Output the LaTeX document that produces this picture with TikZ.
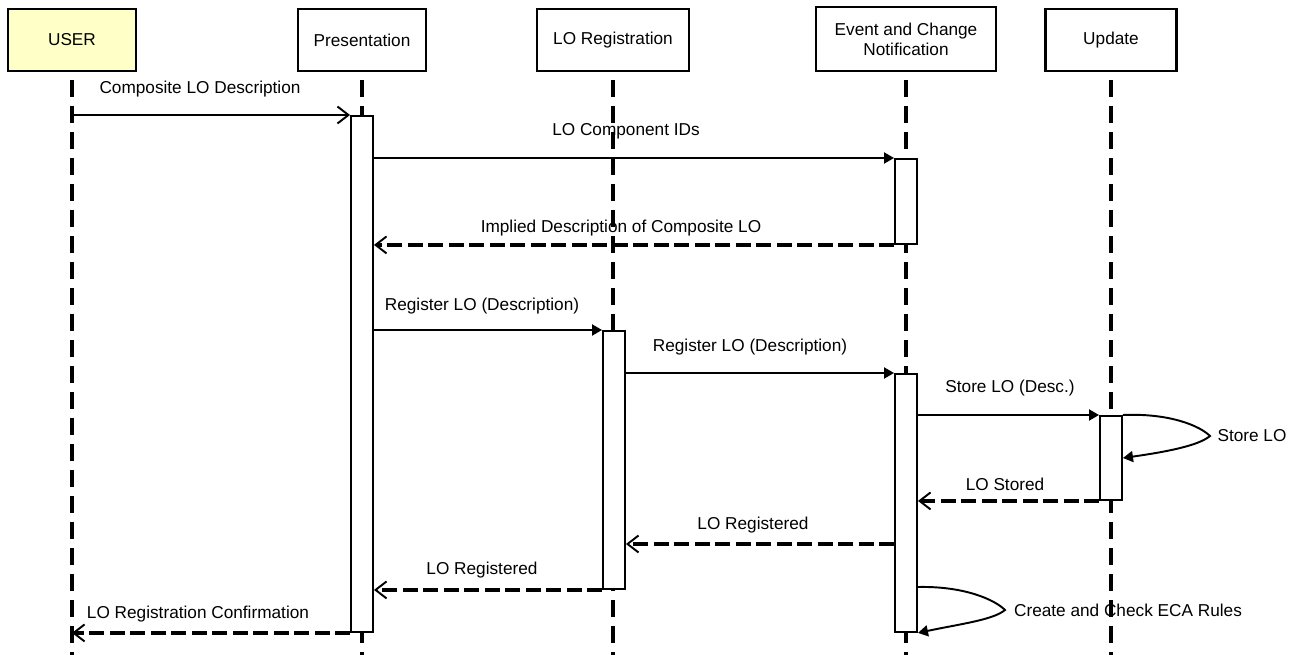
\documentclass[tikz,border=0pt]{standalone}
\usepackage{fontspec}
\setmainfont{Liberation Sans}
\usepackage{tikz}
\usetikzlibrary{arrows.meta}
\tikzset {>=Stealth}
\definecolor{userfill}{RGB}{255,255,200}
\tikzset{
  actor/.style={draw,line width=1.2pt,minimum width=25.6mm,minimum height=12.4mm,
    align=center,font=\fontsize{9.8}{11.5}\selectfont},
  life/.style={line width=2.3pt,dash pattern=on 3.4mm off 1.8mm},
  actbar/.style={draw,fill=white,line width=1.1pt,minimum width=4.4mm,inner sep=0pt,anchor=north},
  call/.style={line width=1.1pt,-{Triangle[length=2mm,width=2.2mm]}},
  send/.style={line width=1.1pt,-{Straight Barb[length=2.2mm,width=3.4mm,line width=1.1pt]}},
  reply/.style={line width=2.3pt,dash pattern=on 3mm off 1.1mm,
    -{Straight Barb[length=2.2mm,width=3.4mm,line width=1.1pt]}},
  msg/.style={font=\fontsize{9.8}{11.5}\selectfont,inner sep=0pt}
}

\begin{document}
\begin{tikzpicture}[x=0.2mm,y=-0.2mm]
\useasboundingbox (0,0) rectangle (1297,655);
\node[actor,fill=userfill] (user) at (72,40) {USER};
\node[actor] (pres) at (362,40) {Presentation};
\node[actor,minimum width=30.4mm] (reg) at (613,40) {LO Registration};
\node[actor,minimum width=36mm,minimum height=12.8mm] (ecn) at (906,39) {Event and Change\\Notification};
\node[actor,minimum width=26.2mm] (upd) at (1111,40) {Update};
\foreach \n in {user,pres,reg,ecn,upd}
  \draw[life] ([yshift=-1.6mm]\n.south) -- (\n |- 0,655);
\node[actbar,minimum height=103.2mm] (presbar) at (362,115) {};
\node[actbar,minimum height=17mm] (ecnbar1) at (906,158) {};
\node[actbar,minimum height=51.6mm] (regbar) at (614,330) {};
\node[actbar,minimum height=51.6mm] (ecnbar2) at (906,373) {};
\node[actbar,minimum height=16.8mm] (updbar) at (1111,415) {};
\draw[send] (user |- presbar.north west) -- (presbar.north west);
\draw[call] (presbar.east |- ecnbar1.north) -- (ecnbar1.north west);
\draw[reply] (ecnbar1.south west) -- (presbar.east |- ecnbar1.south);
\draw[call] (presbar.east |- regbar.north) -- (regbar.north west);
\draw[call] (regbar.east |- ecnbar2.north) -- (ecnbar2.north west);
\draw[call] (ecnbar2.east |- updbar.north) -- (updbar.north west);
\draw[call] (updbar.north east) .. controls (1170,413) and (1200,426) .. (1210,436)
  .. controls (1198,446) and (1165,452) .. (updbar.east |- 0,458);
\draw[reply] (updbar.south west) -- (ecnbar2.east |- updbar.south);
\draw[reply] (ecnbar2.west |- 0,544) -- (regbar.east |- 0,544);
\draw[reply] (regbar.south west) -- (presbar.east |- regbar.south);
\draw[call] (ecnbar2.east |- 0,587) .. controls (965,586) and (995,600) .. (1005,610)
  .. controls (993,620) and (960,624) .. (ecnbar2.south east);
\draw[reply] (presbar.south west) -- (user |- presbar.south);
\node[msg] (tcomp) at (200,89) {Composite LO Description};
\node[msg] (tids) at (626,131) {LO Component IDs};
\node[msg] (timpl) at (621,228) {Implied Description of Composite LO};
\node[msg] (treg1) at (482,306) {Register LO (Description)};
\node[msg] (treg2) at (750,347) {Register LO (Description)};
\node[msg] (tstore) at (1010,388) {Store LO (Desc.)};
\node[msg] (tself1) at (1252,436) {Store LO};
\node[msg] (tstored) at (1005,484) {LO Stored};
\node[msg] (tdone1) at (753,525) {LO Registered};
\node[msg] (tdone2) at (482,570) {LO Registered};
\node[msg] (tconf) at (198,614) {LO Registration Confirmation};
\node[msg] (tself2) at (1128,610) {Create and Check ECA Rules};
\end{tikzpicture}
\end{document}
